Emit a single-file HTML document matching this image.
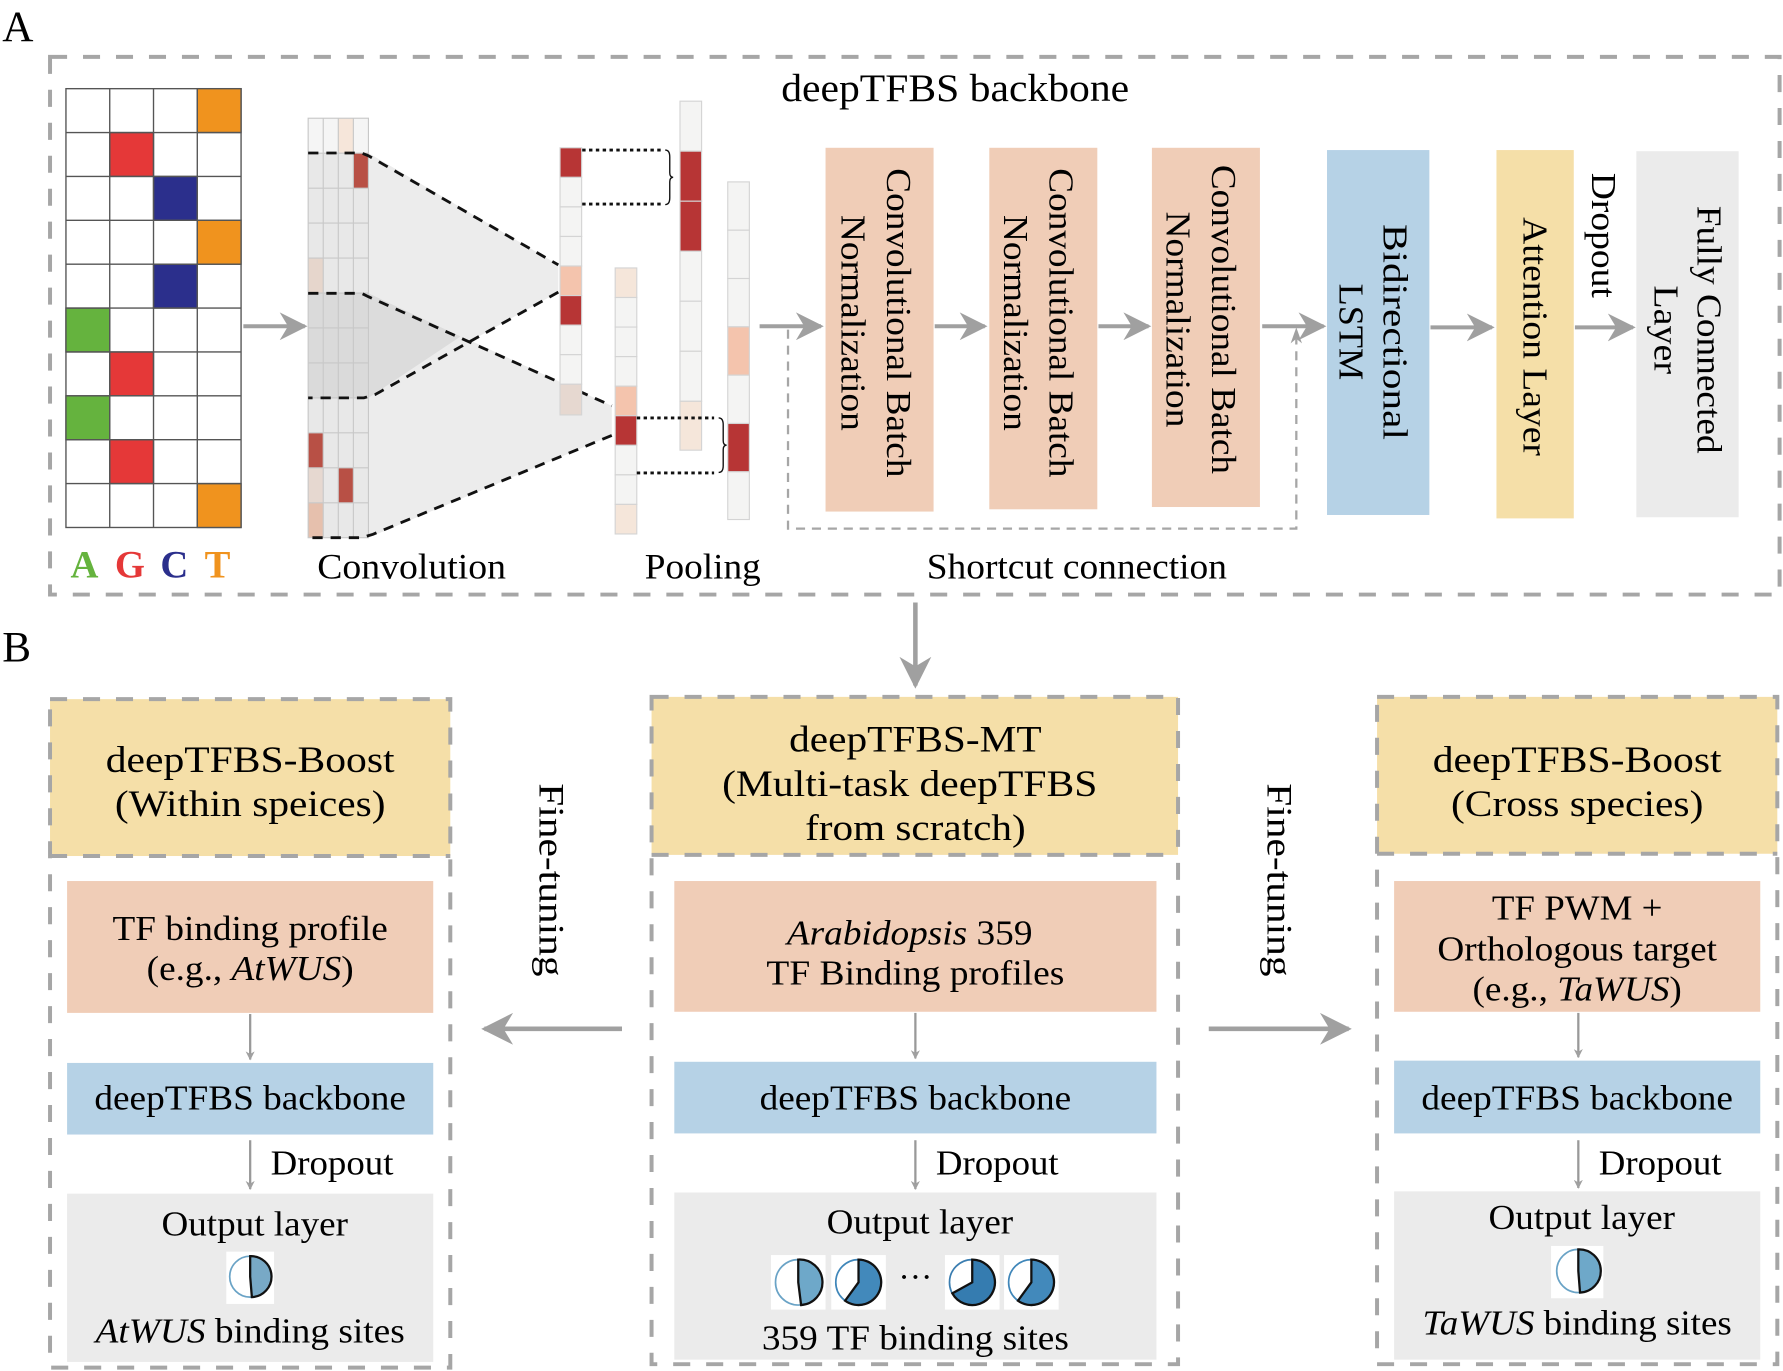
<!DOCTYPE html>
<html><head><meta charset="utf-8"><style>html,body{margin:0;padding:0;background:#fff}svg{display:block}</style></head><body>
<svg xmlns="http://www.w3.org/2000/svg" width="1783" height="1371" viewBox="0 0 1568 1206" preserveAspectRatio="none" font-family="'Liberation Serif', serif" fill="#000">
<defs>
<marker id="ah" viewBox="0 0 10 10" refX="9" refY="5" markerWidth="4" markerHeight="4" orient="auto"><path d="M0,0 L10,5 L0,10 L3,5 Z" fill="#a0a0a0"/></marker>
<marker id="ahs" viewBox="0 0 10 10" refX="9" refY="5" markerWidth="7" markerHeight="7" orient="auto"><path d="M0,0 L10,5 L0,10 L3,5 Z" fill="#a0a0a0"/></marker>
</defs>
<g stroke="#a6a6a6" stroke-width="3.5" stroke-dasharray="15,14" fill="none">
<rect x="44" y="50" width="1521" height="473"/>
</g>
<text x="2" y="36" font-size="38">A</text>
<text x="2" y="582" font-size="38">B</text>
<text x="840" y="89" font-size="34" text-anchor="middle" textLength="306" lengthAdjust="spacingAndGlyphs">deepTFBS backbone</text>

<!-- one-hot grid -->
<g stroke="#555" stroke-width="1.2">
<rect x="58" y="78" width="154" height="386" fill="#fff"/>
<rect x="173.5" y="78" width="38.5" height="38.6" fill="#f0931e"/>
<rect x="96.5" y="116.6" width="38.5" height="38.6" fill="#e53838"/>
<rect x="135" y="155.2" width="38.5" height="38.6" fill="#2b2f8c"/>
<rect x="173.5" y="193.8" width="38.5" height="38.6" fill="#f0931e"/>
<rect x="135" y="232.4" width="38.5" height="38.6" fill="#2b2f8c"/>
<rect x="58" y="271" width="38.5" height="38.6" fill="#65b33e"/>
<rect x="96.5" y="309.6" width="38.5" height="38.6" fill="#e53838"/>
<rect x="58" y="348.2" width="38.5" height="38.6" fill="#65b33e"/>
<rect x="96.5" y="386.8" width="38.5" height="38.6" fill="#e53838"/>
<rect x="173.5" y="425.4" width="38.5" height="38.6" fill="#f0931e"/>
<path d="M96.5,78V464M135,78V464M173.5,78V464M58,116.6H212M58,155.2H212M58,193.8H212M58,232.4H212M58,271H212M58,309.6H212M58,348.2H212M58,386.8H212M58,425.4H212" fill="none"/>
</g>
<g font-size="34" font-weight="bold">
<text x="62" y="508" fill="#65b33e">A</text><text x="101" y="508" fill="#e53838">G</text><text x="141" y="508" fill="#2b2f8c">C</text><text x="180" y="508" fill="#f0931e">T</text>
</g>
<line x1="214" y1="287" x2="268" y2="287" stroke="#a0a0a0" stroke-width="3.5" marker-end="url(#ahs)"/>

<!-- conv shading -->
<polygon points="324,134.6 491,233 491,257 324,350" fill="#ececec"/>
<polygon points="324,258 538,357 538,383 324,473" fill="#ececec"/>
<polygon points="324,258 405,296 324,350" fill="#dcdcdc"/>
<!-- conv strip -->
<rect x="271" y="104" width="53" height="369" fill="#e8e8e8"/>
<rect x="271" y="104" width="53" height="30.75" fill="#f5f5f5"/>
<rect x="271" y="258" width="53" height="92" fill="#dadada"/>
<rect x="297.5" y="104" width="13.25" height="30.75" fill="#f6e6da"/>
<rect x="310.75" y="134.75" width="13.25" height="30.75" fill="#b85045"/>
<rect x="271" y="227" width="13.25" height="30.75" fill="#e6d6cc"/>
<rect x="271" y="381" width="13.25" height="30.75" fill="#b85045"/>
<rect x="271" y="411.75" width="13.25" height="30.75" fill="#e6d8d0"/>
<rect x="297.5" y="411.75" width="13.25" height="30.75" fill="#b85045"/>
<rect x="271" y="442.5" width="13.25" height="30.5" fill="#e6c0ad"/>
<g stroke="#c8c8c8" stroke-width="1" fill="none">
<rect x="271" y="104" width="53" height="369"/>
<path d="M284.25,104V473M297.5,104V473M310.75,104V473M271,134.75H324M271,165.5H324M271,196.25H324M271,227H324M271,257.75H324M271,288.5H324M271,319.25H324M271,350H324M271,380.75H324M271,411.5H324M271,442.25H324"/>
</g>
<g stroke="#111" stroke-width="2.5" stroke-dasharray="9,7" fill="none">
<path d="M271,134.6 H318 L324,137 L491,233 M491,257 L330,347 L320,350 H271"/>
<path d="M271,258 H318 L324,261 L538,357 M538,383 L328,470 L318,473 H271"/>
</g>

<!-- pooling cols -->
<g stroke="#d4d4d4" stroke-width="1">
<rect x="492.5" y="130" width="19" height="26" fill="#b73535"/>
<rect x="492.5" y="156" width="19" height="26" fill="#f4f4f3"/>
<rect x="492.5" y="182" width="19" height="26" fill="#f4f4f3"/>
<rect x="492.5" y="208" width="19" height="26" fill="#f4f4f3"/>
<rect x="492.5" y="234" width="19" height="26" fill="#f4c4ad"/>
<rect x="492.5" y="260" width="19" height="26" fill="#b73535"/>
<rect x="492.5" y="286" width="19" height="26" fill="#f4f4f3"/>
<rect x="492.5" y="312" width="19" height="26" fill="#f4f4f3"/>
<rect x="492.5" y="338" width="19" height="27" fill="#e6d8d0"/>

<rect x="541" y="235.7" width="19" height="26" fill="#f5e6da"/>
<rect x="541" y="261.7" width="19" height="26" fill="#f4f4f3"/>
<rect x="541" y="287.7" width="19" height="26" fill="#f4f4f3"/>
<rect x="541" y="313.7" width="19" height="26" fill="#f4f4f3"/>
<rect x="541" y="339.7" width="19" height="26" fill="#f4c4ad"/>
<rect x="541" y="365.7" width="19" height="26" fill="#b73535"/>
<rect x="541" y="391.7" width="19" height="26" fill="#f4f4f3"/>
<rect x="541" y="417.7" width="19" height="26" fill="#f4f4f3"/>
<rect x="541" y="443.7" width="19" height="26" fill="#f5e6da"/>

<rect x="598" y="89" width="19" height="44" fill="#f4f4f3"/>
<rect x="598" y="133" width="19" height="44" fill="#b73535"/>
<rect x="598" y="177" width="19" height="44" fill="#b73535"/>
<rect x="598" y="221" width="19" height="44" fill="#f4f4f3"/>
<rect x="598" y="265" width="19" height="44" fill="#f4f4f3"/>
<rect x="598" y="309" width="19" height="44" fill="#f4f4f3"/>
<rect x="598" y="353" width="19" height="43" fill="#f5e6da"/>

<rect x="640" y="160" width="19" height="42.5" fill="#f4f4f3"/>
<rect x="640" y="202.5" width="19" height="42.5" fill="#f4f4f3"/>
<rect x="640" y="245" width="19" height="42.5" fill="#f4f4f3"/>
<rect x="640" y="287.5" width="19" height="42.5" fill="#f4c4ad"/>
<rect x="640" y="330" width="19" height="42.5" fill="#f4f4f3"/>
<rect x="640" y="372.5" width="19" height="42.5" fill="#b73535"/>
<rect x="640" y="415" width="19" height="42" fill="#f4f4f3"/>
</g>
<g stroke="#111" stroke-width="2.5" stroke-dasharray="3,3" fill="none">
<path d="M512,132H583M512,179.5H583M560,367.6H628M560,416H628"/>
</g>
<g stroke="#111" stroke-width="1.2" fill="none">
<path d="M585,132 q4,0 4,6 v14 q0,4 3,4 q-3,0 -3,4 v14 q0,6 -4,6"/>
<path d="M632,367.6 q4,0 4,6 v14 q0,4 3,4 q-3,0 -3,4 v14 q0,6 -4,6"/>
</g>
<g font-size="32" text-anchor="middle">
<text x="362" y="509" textLength="166" lengthAdjust="spacingAndGlyphs">Convolution</text>
<text x="618" y="509" textLength="102" lengthAdjust="spacingAndGlyphs">Pooling</text>
<text x="947" y="509" textLength="264" lengthAdjust="spacingAndGlyphs">Shortcut connection</text>
</g>

<!-- blocks -->
<rect x="726" y="130" width="95" height="320" fill="#f0cdb7"/>
<rect x="870" y="130" width="95" height="318" fill="#f0cdb7"/>
<rect x="1013" y="130" width="95" height="316" fill="#f0cdb7"/>
<rect x="1167" y="132" width="90" height="321" fill="#b6d2e6"/>
<rect x="1316" y="132" width="68" height="324" fill="#f5dfa8"/>
<rect x="1439" y="133" width="90" height="322" fill="#ebebeb"/>
<g font-size="31" text-anchor="middle" dominant-baseline="central">
<text transform="translate(790,284) rotate(90)" textLength="272" lengthAdjust="spacingAndGlyphs">Convolutional Batch</text>
<text transform="translate(750,284) rotate(90)" textLength="190" lengthAdjust="spacingAndGlyphs">Normalization</text>
<text transform="translate(933,284) rotate(90)" textLength="272" lengthAdjust="spacingAndGlyphs">Convolutional Batch</text>
<text transform="translate(893,284) rotate(90)" textLength="190" lengthAdjust="spacingAndGlyphs">Normalization</text>
<text transform="translate(1076,281) rotate(90)" textLength="272" lengthAdjust="spacingAndGlyphs">Convolutional Batch</text>
<text transform="translate(1036,281) rotate(90)" textLength="190" lengthAdjust="spacingAndGlyphs">Normalization</text>
<text transform="translate(1227,292) rotate(90)" textLength="190" lengthAdjust="spacingAndGlyphs">Bidirectional</text>
<text transform="translate(1188,292) rotate(90)" textLength="85" lengthAdjust="spacingAndGlyphs">LSTM</text>
<text transform="translate(1350,296) rotate(90)" textLength="210" lengthAdjust="spacingAndGlyphs">Attention Layer</text>
<text transform="translate(1410,207) rotate(90)" textLength="110" lengthAdjust="spacingAndGlyphs">Dropout</text>
<text transform="translate(1503,290) rotate(90)" textLength="218" lengthAdjust="spacingAndGlyphs">Fully Connected</text>
<text transform="translate(1465,290) rotate(90)" textLength="78" lengthAdjust="spacingAndGlyphs">Layer</text>
</g>
<g stroke="#a0a0a0" stroke-width="3.5" marker-end="url(#ahs)">
<line x1="668" y1="287" x2="722" y2="287"/>
<line x1="822" y1="287" x2="866" y2="287"/>
<line x1="966" y1="287" x2="1010" y2="287"/>
<line x1="1110" y1="287" x2="1164" y2="287"/>
<line x1="1258" y1="288" x2="1312" y2="288"/>
<line x1="1385" y1="288" x2="1436" y2="288"/>
</g>
<path d="M693,290 V465 H1140 V298" stroke="#a6a6a6" stroke-width="2" stroke-dasharray="8,6" fill="none"/>
<path d="M1140,288 l-5,14 l5,-4 l5,4 z" fill="#a0a0a0"/>
<line x1="805" y1="530" x2="805" y2="603" stroke="#a0a0a0" stroke-width="4" marker-end="url(#ahs)"/>

<!-- Panel B -->
<rect x="44" y="615" width="352" height="138" fill="#f5dfa8"/>
<rect x="573" y="613" width="463" height="139" fill="#f5dfa8"/>
<rect x="1211" y="613" width="352" height="138" fill="#f5dfa8"/>
<g stroke="#a6a6a6" stroke-width="3.5" stroke-dasharray="15,14" fill="none">
<rect x="44" y="615" width="352" height="588"/>
<line x1="44" y1="753" x2="396" y2="753"/>
<rect x="573" y="613" width="463" height="587"/>
<line x1="573" y1="752" x2="1036" y2="752"/>
<rect x="1211" y="613" width="352" height="587"/>
<line x1="1211" y1="751" x2="1563" y2="751"/>
</g>
<rect x="59" y="775" width="322" height="116" fill="#f0cdb7"/>
<rect x="59" y="935" width="322" height="63" fill="#b6d2e6"/>
<rect x="59" y="1050" width="322" height="148" fill="#ebebeb"/>
<rect x="593" y="775" width="424" height="115" fill="#f0cdb7"/>
<rect x="593" y="934" width="424" height="63" fill="#b6d2e6"/>
<rect x="593" y="1049" width="424" height="147" fill="#ebebeb"/>
<rect x="1226" y="775" width="322" height="115" fill="#f0cdb7"/>
<rect x="1226" y="933" width="322" height="64" fill="#b6d2e6"/>
<rect x="1226" y="1048" width="322" height="148" fill="#ebebeb"/>

<g stroke="#999" stroke-width="2" marker-end="url(#ah)">
<line x1="220" y1="892" x2="220" y2="932"/>
<line x1="220" y1="1003" x2="220" y2="1046"/>
<line x1="805" y1="891" x2="805" y2="931"/>
<line x1="805" y1="1003" x2="805" y2="1046"/>
<line x1="1388" y1="891" x2="1388" y2="930"/>
<line x1="1388" y1="1003" x2="1388" y2="1045"/>
</g>
<g stroke="#a0a0a0" stroke-width="4" marker-end="url(#ahs)">
<line x1="547" y1="905" x2="426" y2="905"/>
<line x1="1063" y1="905" x2="1186" y2="905"/>
</g>

<g font-size="33" text-anchor="middle">
<text x="220" y="679" textLength="254" lengthAdjust="spacingAndGlyphs">deepTFBS-Boost</text>
<text x="220" y="718" textLength="238" lengthAdjust="spacingAndGlyphs">(Within speices)</text>
<text x="805" y="661" textLength="222" lengthAdjust="spacingAndGlyphs">deepTFBS-MT</text>
<text x="800" y="700" textLength="330" lengthAdjust="spacingAndGlyphs">(Multi-task deepTFBS</text>
<text x="805" y="739" textLength="194" lengthAdjust="spacingAndGlyphs">from scratch)</text>
<text x="1387" y="679" textLength="254" lengthAdjust="spacingAndGlyphs">deepTFBS-Boost</text>
<text x="1387" y="718" textLength="222" lengthAdjust="spacingAndGlyphs">(Cross species)</text>
</g>
<g font-size="31" text-anchor="middle">
<text x="220" y="827" textLength="242" lengthAdjust="spacingAndGlyphs">TF binding profile</text>
<text x="220" y="862" textLength="182" lengthAdjust="spacingAndGlyphs">(e.g., <tspan font-style="italic">AtWUS</tspan>)</text>
<text x="220" y="976" textLength="274" lengthAdjust="spacingAndGlyphs">deepTFBS backbone</text>
<text x="292" y="1033" textLength="108" lengthAdjust="spacingAndGlyphs">Dropout</text>
<text x="224" y="1087" textLength="164" lengthAdjust="spacingAndGlyphs">Output layer</text>
<text x="220" y="1181" textLength="272" lengthAdjust="spacingAndGlyphs"><tspan font-style="italic">AtWUS</tspan> binding sites</text>

<text x="800" y="831" textLength="216" lengthAdjust="spacingAndGlyphs"><tspan font-style="italic">Arabidopsis</tspan> 359</text>
<text x="805" y="866" textLength="262" lengthAdjust="spacingAndGlyphs">TF Binding profiles</text>
<text x="805" y="976" textLength="274" lengthAdjust="spacingAndGlyphs">deepTFBS backbone</text>
<text x="877" y="1033" textLength="108" lengthAdjust="spacingAndGlyphs">Dropout</text>
<text x="809" y="1085" textLength="164" lengthAdjust="spacingAndGlyphs">Output layer</text>
<text x="805" y="1187" textLength="270" lengthAdjust="spacingAndGlyphs">359 TF binding sites</text>

<text x="1387" y="809" textLength="150" lengthAdjust="spacingAndGlyphs">TF PWM +</text>
<text x="1387" y="845" textLength="246" lengthAdjust="spacingAndGlyphs">Orthologous target</text>
<text x="1387" y="880" textLength="184" lengthAdjust="spacingAndGlyphs">(e.g., <tspan font-style="italic">TaWUS</tspan>)</text>
<text x="1387" y="976" textLength="274" lengthAdjust="spacingAndGlyphs">deepTFBS backbone</text>
<text x="1460" y="1033" textLength="108" lengthAdjust="spacingAndGlyphs">Dropout</text>
<text x="1391" y="1081" textLength="164" lengthAdjust="spacingAndGlyphs">Output layer</text>
<text x="1387" y="1174" textLength="272" lengthAdjust="spacingAndGlyphs"><tspan font-style="italic">TaWUS</tspan> binding sites</text>
</g>
<g font-size="32" text-anchor="middle" dominant-baseline="central">
<text transform="translate(485,774) rotate(90)" textLength="170" lengthAdjust="spacingAndGlyphs">Fine-tuning</text>
<text transform="translate(1125,774) rotate(90)" textLength="170" lengthAdjust="spacingAndGlyphs">Fine-tuning</text>
</g>
<text x="805" y="1133" font-size="30" text-anchor="middle">···</text>

<!-- pies -->
<g>
<rect x="199" y="1101" width="42" height="46" fill="#fff"/>
<circle cx="220" cy="1123" r="18" fill="#fff" stroke="#6aa3c6" stroke-width="1.5"/>
<path d="M220,1123 L220,1105 A18,18 0 0 1 221.5,1141 Z" fill="#78a9c6" stroke="#111" stroke-width="2"/>

<rect x="678" y="1104" width="48" height="48" fill="#fff"/>
<circle cx="702" cy="1128" r="20" fill="#fff" stroke="#6aa3c6" stroke-width="1.5"/>
<path d="M702,1128 L702,1108 A20,20 0 0 1 704.5,1148 Z" fill="#6ea8c9" stroke="#111" stroke-width="2"/>
<rect x="731" y="1104" width="48" height="48" fill="#fff"/>
<circle cx="755" cy="1128" r="20" fill="#fff" stroke="#3f86b9" stroke-width="1.5"/>
<path d="M755,1128 L755,1108 A20,20 0 1 1 743.2,1144.2 Z" fill="#4289bb" stroke="#111" stroke-width="2"/>
<rect x="831" y="1104" width="48" height="48" fill="#fff"/>
<circle cx="855" cy="1128" r="20" fill="#fff" stroke="#3a7db0" stroke-width="1.5"/>
<path d="M855,1128 L855,1108 A20,20 0 1 1 837.5,1137.7 Z" fill="#357cb0" stroke="#111" stroke-width="2"/>
<rect x="883" y="1104" width="48" height="48" fill="#fff"/>
<circle cx="907" cy="1128" r="20" fill="#fff" stroke="#3f86b9" stroke-width="1.5"/>
<path d="M907,1128 L907,1108 A20,20 0 1 1 895.2,1144.2 Z" fill="#4289bb" stroke="#111" stroke-width="2"/>

<rect x="1364" y="1096" width="46" height="46" fill="#fff"/>
<circle cx="1388" cy="1118" r="19" fill="#fff" stroke="#6aa3c6" stroke-width="1.5"/>
<path d="M1388,1118 L1388,1099 A19,19 0 0 1 1389.5,1137 Z" fill="#6ea8c9" stroke="#111" stroke-width="2"/>
</g>
</svg>
</body></html>
